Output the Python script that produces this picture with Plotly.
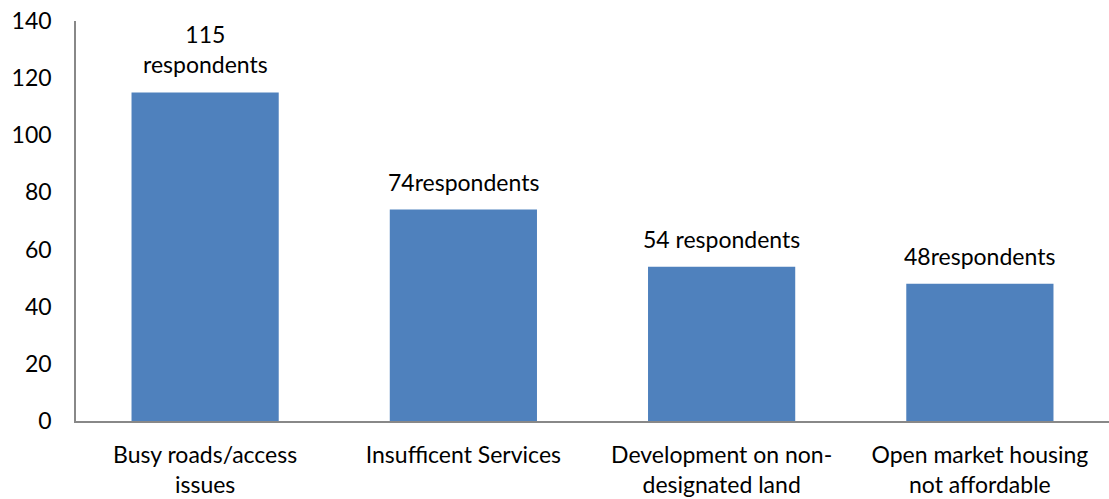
import plotly.graph_objects as go

categories = ["Busy roads/access<br>issues", "Insufficent Services",
              "Development on non-<br>designated land", "Open market housing<br>not affordable"]
values = [115, 74, 54, 48]
labels = ["115<br>respondents", "74respondents", "54 respondents", "48respondents"]
tick_vals = [0, 20, 40, 60, 80, 100, 120, 140]

FONT = "Lato, Carlito, Calibri, sans-serif"
FS = 23

fig = go.Figure(go.Bar(x=categories, y=values, marker_color="#4F81BD",
                       marker_line_width=0, width=0.57))

for c, v, t in zip(categories, values, labels):
    fig.add_annotation(x=c, y=v, text=t, showarrow=False, yanchor="bottom",
                       yshift=12, font=dict(family=FONT, size=FS, color="#000"))

fig.update_layout(
    width=1109, height=499,
    margin=dict(l=76, r=0, t=21, b=78, autoexpand=False),
    plot_bgcolor="white", paper_bgcolor="white",
    showlegend=False,
    font=dict(family=FONT, size=FS, color="#000"),
    xaxis=dict(showline=True, linecolor="#888888", linewidth=1.5, automargin=False,
               ticks="", showgrid=False, tickfont=dict(size=FS), ticklabelstandoff=13,
               ticklabeloverflow="allow"),
    yaxis=dict(range=[0, 140], tickvals=tick_vals, showline=True, automargin=False,
               linecolor="#888888", linewidth=1.5, ticks="", showgrid=False,
               zeroline=False, tickfont=dict(size=FS), ticklabelstandoff=18,
               ticklabeloverflow="allow"),
)

fig.write_html("out.html", config={"displayModeBar": False},
               post_script="document.body.style.margin='0';document.body.style.overflow='hidden';")
